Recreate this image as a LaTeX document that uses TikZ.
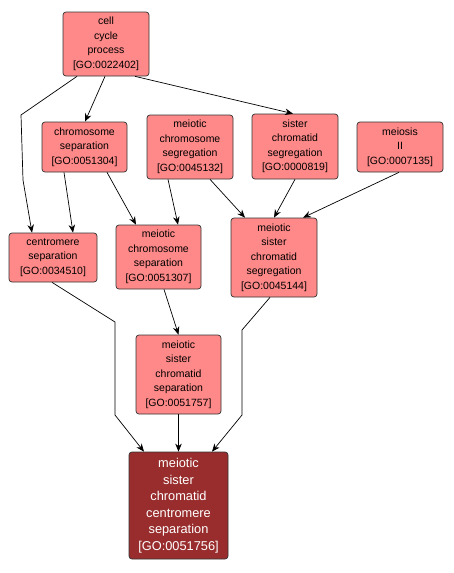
\documentclass[tikz,border=0pt]{standalone}
\usepackage{fontspec}
\setmainfont{Liberation Sans}
\usetikzlibrary{arrows.meta,calc}
\definecolor{nodefill}{RGB}{255,136,136}
\definecolor{finalfill}{RGB}{153,45,45}
\begin{document}
\begin{tikzpicture}[x=1pt,y=-1pt,
  goterm/.style={draw=black!80,line width=0.7pt,fill=nodefill,rounded corners=3pt,align=center,
    inner sep=0pt,font=\fontsize{10.5}{14.5}\selectfont},
  goroot/.style={goterm,fill=finalfill,text=white,font=\fontsize{12.8}{16.5}\selectfont},
  edge/.style={draw=black,line width=0.7pt,-{Stealth[length=8pt,width=6.5pt]}}]
\useasboundingbox (0,0) rectangle (454,573);
\node[goterm,minimum width=86pt,minimum height=64pt] (ccp) at (106,44) {cell\\cycle\\process\\{}[GO:0022402]};
\node[goterm,minimum width=85pt,minimum height=50pt] (cs) at (84.5,147) {chromosome\\separation\\{}[GO:0051304]};
\node[goterm,minimum width=86pt,minimum height=64pt] (mcseg) at (190,147) {meiotic\\chromosome\\segregation\\{}[GO:0045132]};
\node[goterm,minimum width=86pt,minimum height=65pt] (scs) at (295,146.5) {sister\\chromatid\\segregation\\{}[GO:0000819]};
\node[goterm,minimum width=86pt,minimum height=50pt] (mii) at (400,147) {meiosis\\II\\{}[GO:0007135]};
\node[goterm,minimum width=86pt,minimum height=79pt] (mscseg) at (274,257.5) {meiotic\\sister\\chromatid\\segregation\\{}[GO:0045144]};
\node[goterm,minimum width=88pt,minimum height=49pt] (cen) at (53,257.5) {centromere\\separation\\{}[GO:0034510]};
\node[goterm,minimum width=85pt,minimum height=64pt] (mcsep) at (158.5,257) {meiotic\\chromosome\\separation\\{}[GO:0051307]};
\node[goterm,minimum width=85pt,minimum height=79pt] (mscsep) at (178.5,374.5) {meiotic\\sister\\chromatid\\separation\\{}[GO:0051757]};
\node[goroot,minimum width=99pt,minimum height=107pt] (final) at (178.5,505.5) {meiotic\\sister\\chromatid\\centromere\\separation\\{}[GO:0051756]};
\coordinate (b1) at (21,115);
\coordinate (b2) at (23,180);
\coordinate (c1) at (115,322);
\coordinate (c2) at (115,415);
\coordinate (d1) at (242,330);
\coordinate (d2) at (242,415);
\draw[edge] ([xshift=-29pt]ccp.south) -- (b1) -- (b2) -- ([xshift=-21pt]cen.north);
\draw[edge] ([xshift=-1pt]ccp.south) -- ([xshift=0.5pt]cs.north);
\draw[edge] ([xshift=29pt]ccp.south) -- ([xshift=-2pt]scs.north);
\draw[edge] ([xshift=-20.5pt]cs.south) -- ([xshift=20pt]cen.north);
\draw[edge] ([xshift=22.5pt]cs.south) -- ([xshift=-22.5pt]mcsep.north);
\draw[edge] ([xshift=-22pt]mcseg.south) -- ([xshift=19.5pt]mcsep.north);
\draw[edge] ([xshift=20pt]mcseg.south) -- ([xshift=-29pt]mscseg.north);
\draw[edge] (scs.south) -- (mscseg.north);
\draw[edge] ([xshift=-1pt]mii.south) -- ([xshift=29pt]mscseg.north);
\draw[edge] ([xshift=5.5pt]mcsep.south) -- (mscsep.north);
\draw[edge] ([xshift=-1pt]cen.south) -- (c1) -- (c2) -- ([xshift=-34.5pt]final.north);
\draw[edge] (mscsep.south) -- (final.north);
\draw[edge] ([xshift=-4pt]mscseg.south) -- (d1) -- (d2) -- ([xshift=33.5pt]final.north);
\end{tikzpicture}
\end{document}
